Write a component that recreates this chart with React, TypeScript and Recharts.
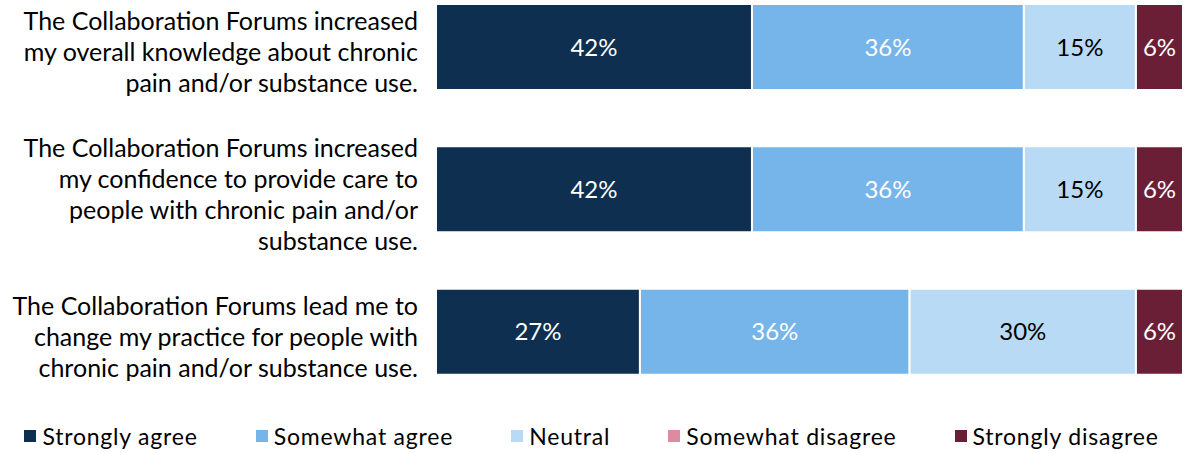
import React from 'react';
import { BarChart, Bar, XAxis, YAxis, Legend, LabelList } from 'recharts';

const FONT = 'Lato, "Open Sans", sans-serif';

// survey statements (line breaks as in the original labels)
const questions = [
  'The Collaboration Forums increased\nmy overall knowledge about chronic\npain and/or substance use.',
  'The Collaboration Forums increased\nmy confidence to provide care to\npeople with chronic pain and/or\nsubstance use.',
  'The Collaboration Forums lead me to\nchange my practice for people with\nchronic pain and/or substance use.',
];

// percentages per response
const stronglyAgree = [42.3, 42.3, 27.3];
const somewhatAgree = [36.4, 36.4, 36.1];
const neutral = [15.0, 15.0, 30.3];
const somewhatDisagree = [0, 0, 0];
const stronglyDisagree = [6.3, 6.3, 6.3];

const series = [
  { key: 'stronglyAgree', name: 'Strongly agree', color: '#0E2F50', text: '#FFFFFF' },
  { key: 'somewhatAgree', name: 'Somewhat agree', color: '#76B5EA', text: '#FFFFFF' },
  { key: 'neutral', name: 'Neutral', color: '#B9DAF4', text: '#000000' },
  { key: 'somewhatDisagree', name: 'Somewhat disagree', color: '#DE8AA0', text: '#FFFFFF' },
  { key: 'stronglyDisagree', name: 'Strongly disagree', color: '#6B1F36', text: '#FFFFFF' },
];

const chartData = questions.map((q, i) => ({
  q,
  stronglyAgree: stronglyAgree[i],
  somewhatAgree: somewhatAgree[i],
  neutral: neutral[i],
  somewhatDisagree: somewhatDisagree[i],
  stronglyDisagree: stronglyDisagree[i],
}));

const QuestionTick = ({ x, y, payload }: any) => {
  const lines = String(payload.value).split('\n');
  const lh = 31;
  // labels sit a little below the bar centre in the original
  const start = y + 5 - ((lines.length - 1) * lh) / 2;
  return (
    <text x={x} y={start} textAnchor="end" fontFamily={FONT} fontSize={25} fill="#000">
      {lines.map((line, i) => (
        <tspan key={i} x={x} y={start + i * lh} dy="0.35em">
          {line}
        </tspan>
      ))}
    </text>
  );
};

const renderLegend = () => (
  <div
    style={{
      display: 'flex',
      justifyContent: 'center',
      alignItems: 'flex-end',
      gap: 58,
      height: 50,
      fontFamily: FONT,
      fontSize: 23,
      letterSpacing: 0.8,
      color: '#000',
      paddingBottom: 3,
      boxSizing: 'border-box',
    }}
  >
    {series.map((s) => (
      <div key={s.key} style={{ display: 'flex', alignItems: 'center' }}>
        <span style={{ width: 12, height: 12, background: s.color, marginRight: 6, display: 'inline-block' }} />
        {s.name}
      </div>
    ))}
  </div>
);

const App = () => {
  return (
    <div style={{ position: 'absolute', left: 0, top: 0, fontFamily: FONT }}>
      <BarChart
        width={1185}
        height={453}
        data={chartData}
        layout="vertical"
        margin={{ top: -24, right: 2, bottom: 0, left: 0 }}
      >
        <XAxis type="number" domain={[0, 100]} hide />
        <YAxis
          type="category"
          dataKey="q"
          width={436}
          axisLine={false}
          tickLine={false}
          tickSize={0}
          tickMargin={18}
          interval={0}
          tick={<QuestionTick />}
        />
        <Legend verticalAlign="bottom" height={50} content={renderLegend} />
        {series.map((s) => (
          <Bar
            key={s.key}
            dataKey={s.key}
            name={s.name}
            stackId="a"
            fill={s.color}
            stroke="#FFFFFF"
            strokeWidth={2}
            barSize={86}
            isAnimationActive={false}
          >
            <LabelList
              dataKey={s.key}
              position="center"
              fill={s.text}
              fontSize={24}
              fontFamily={FONT}
              formatter={(v: any) => (Number(v) > 0 ? `${Math.round(Number(v))}%` : '')}
            />
          </Bar>
        ))}
      </BarChart>
    </div>
  );
};

export default App;
